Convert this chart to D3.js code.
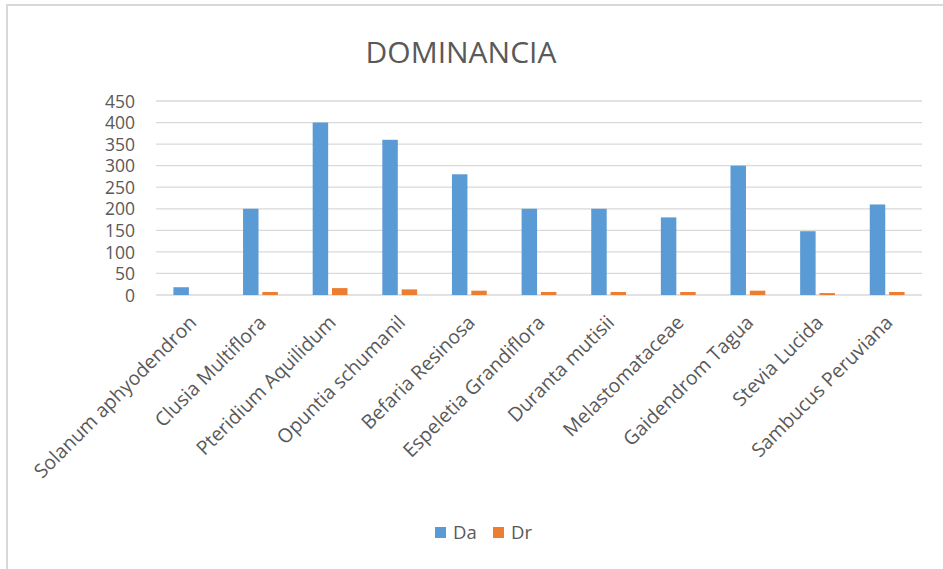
<!DOCTYPE html>
<html>
<head>
<meta charset="utf-8">
<script src="https://cdn.jsdelivr.net/npm/d3@7"></script>
<style>
body{margin:0;background:#fff;}
svg{display:block;font-family:"Open Sans",sans-serif;}
</style>
</head>
<body>
<svg id="chart"></svg>
<script>
var categories=["Solanum aphyodendron","Clusia Multiflora","Pteridium Aquilidum","Opuntia schumanil","Befaria Resinosa","Espeletia Grandiflora","Duranta mutisii","Melastomataceae","Gaidendrom Tagua","Stevia Lucida","Sambucus Peruviana"]
var daValues=[18,200,400,360,280,200,200,180,300,148,210]
var drValues=[0,7,16,13,10,7,7,7,10,4.5,7]
var seriesNames=["Da","Dr"]
var seriesColors=["#5b9bd5","#ed7d31"]
var yTicks=[0,50,100,150,200,250,300,350,400,450]

var width=943,height=569
var plotLeft=156,plotRight=922,plotTop=101,plotBottom=295
var textColor="#595959"

var svg=d3.select("#chart")
.attr("width",width)
.attr("height",height)

// frame
svg.append("path")
.attr("d","M7,569 V5 H943")
.attr("fill","none")
.attr("stroke","#d9d9d9")
.attr("stroke-width",2)

svg.append("text")
.attr("x",461)
.attr("y",63)
.attr("text-anchor","middle")
.attr("font-size",30)
.attr("fill",textColor)
.text("DOMINANCIA")

var xScale=d3.scaleBand()
.domain(categories)
.range([plotLeft,plotRight])

var subScale=d3.scaleBand()
.domain(seriesNames)
.range([0,xScale.bandwidth()])
.paddingInner(0.2)
.paddingOuter(0.9)

var yScale=d3.scaleLinear()
.domain([0,450])
.range([plotBottom,plotTop])

// gridlines
svg.append("g")
.selectAll("line")
.data(yTicks)
.enter()
.append("line")
.attr("x1",plotLeft)
.attr("x2",plotRight)
.attr("y1",d=>yScale(d))
.attr("y2",d=>yScale(d))
.attr("stroke","#d9d9d9")
.attr("stroke-width",1.3)

var yAxis=d3.axisLeft(yScale)
.tickValues(yTicks)
.tickSize(0)
.tickPadding(0)

svg.append("g")
.attr("transform","translate(135,0)")
.call(yAxis)
.call(g=>g.select(".domain").remove())
.selectAll("text")
.attr("font-size",17.5)
.attr("font-family","Open Sans")
.attr("fill",textColor)
.attr("dy","0.35em")

var rows=categories.map((c,i)=>({cat:c,values:[daValues[i],drValues[i]]}))

var groups=svg.append("g")
.selectAll(".cat")
.data(rows)
.enter()
.append("g")
.attr("transform",d=>`translate(${xScale(d.cat)},0)`)

groups.selectAll("rect")
.data(d=>d.values.map((v,j)=>({key:seriesNames[j],value:v,color:seriesColors[j]})))
.enter()
.append("rect")
.attr("x",d=>subScale(d.key))
.attr("width",subScale.bandwidth())
.attr("y",d=>yScale(d.value))
.attr("height",d=>plotBottom-yScale(d.value))
.attr("fill",d=>d.color)

var xAxis=d3.axisBottom(xScale)
.tickSize(0)
.tickPadding(0)

svg.append("g")
.attr("transform",`translate(0,${plotBottom})`)
.call(xAxis)
.call(g=>g.select(".domain").remove())
.selectAll("text")
.attr("font-size",19.5)
.attr("font-family","Open Sans")
.attr("fill",textColor)
.attr("text-anchor","end")
.attr("dy","0.35em")
.attr("transform","translate(2,24) rotate(-45)")

// legend
var legend=svg.append("g")
.selectAll(".leg")
.data(seriesNames)
.enter()
.append("g")
.attr("transform",(d,i)=>`translate(${435+i*58},527)`)

legend.append("rect")
.attr("width",11)
.attr("height",11)
.attr("fill",(d,i)=>seriesColors[i])

legend.append("text")
.attr("x",18)
.attr("y",12)
.attr("font-size",18.5)
.attr("fill",textColor)
.text(d=>d)
</script>
</body>
</html>
